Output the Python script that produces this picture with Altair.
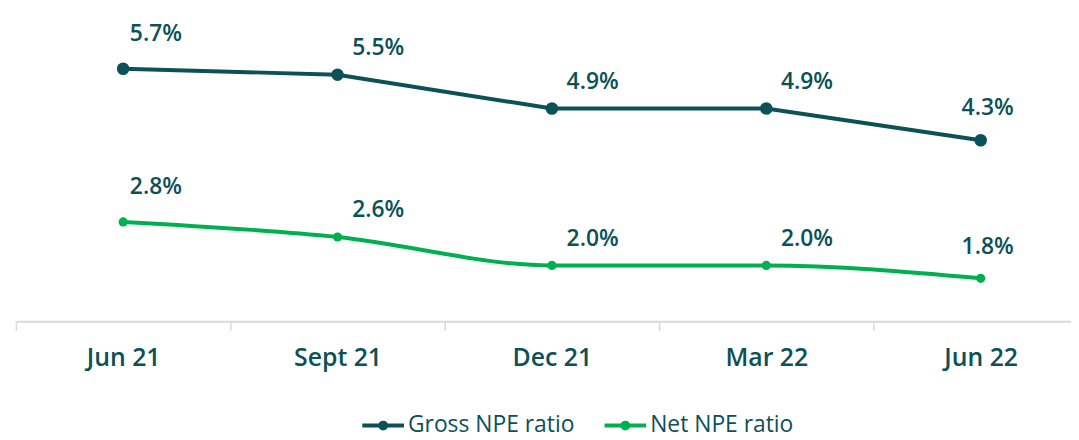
import altair as alt
import pandas as pd

periods = ["Jun 21", "Sept 21", "Dec 21", "Mar 22", "Jun 22"]
series_names = ["Gross NPE ratio", "Net NPE ratio"]
gross = [5.70, 5.59, 4.96, 4.96, 4.37]
net = [2.85, 2.57, 2.04, 2.04, 1.80]
gross_labels = ["5.7%", "5.5%", "4.9%", "4.9%", "4.3%"]
net_labels = ["2.8%", "2.6%", "2.0%", "2.0%", "1.8%"]

DARK = "#0b5156"
GREEN = "#00b050"
FONT = "Open Sans"

rows = []
for s, vals, labs in [(series_names[0], gross, gross_labels),
                      (series_names[1], net, net_labels)]:
    for i, (p, v, l) in enumerate(zip(periods, vals, labs)):
        rows.append({"period": p, "series": s, "value": v, "label": l, "idx": i})
df = pd.DataFrame(rows)

PLOT_W = 1063          # visible plot width (page is 1079 wide)
STEP = 216             # width of one period slot in the original
x_domain = [-0.5, -0.5 + PLOT_W / STEP]

cscale = alt.Scale(domain=series_names, range=[DARK, GREEN])
sym_path = "M-1,0L1,0M0.14,0A0.14,0.14,0,1,1,-0.14,0A0.14,0.14,0,1,1,0.14,0Z"
legend = alt.Legend(
    title=None, orient="none", legendX=347, legendY=396, direction="horizontal",
    symbolType=sym_path, symbolSize=1764, symbolStrokeWidth=4,
    labelFont=FONT, labelFontSize=23, labelColor=DARK, labelOffset=2,
    labelLimit=400, columnPadding=22,
)

label_expr = f"{periods}[datum.value]"

base = alt.Chart(df).encode(
    x=alt.X(
        "idx:Q", title=None,
        scale=alt.Scale(domain=x_domain, nice=False, zero=False),
        axis=alt.Axis(
            values=list(range(len(periods))), labelExpr=label_expr,
            domainColor="#d9d9d9", domainWidth=2, tickColor="#d9d9d9", tickWidth=1.5,
            tickSize=9, tickOffset=-STEP / 2, labelOffset=STEP / 2,
            labelFont=FONT, labelFontSize=25,
            labelFontWeight=600, labelColor=DARK, labelPadding=16, labelAngle=0,
            labelOverlap=False, labelFlush=False, grid=False,
        ),
    ),
    y=alt.Y("value:Q", scale=alt.Scale(domain=[1.0, 6.8], nice=False, zero=False), axis=None),
)

line_g = base.transform_filter(alt.datum.series == series_names[0]).mark_line(
    strokeWidth=4, interpolate="linear"
).encode(stroke=alt.Stroke("series:N", scale=cscale, legend=legend))
line_n = base.transform_filter(alt.datum.series == series_names[1]).mark_line(
    strokeWidth=4, interpolate="monotone"
).encode(stroke=alt.Stroke("series:N", scale=cscale, legend=legend))

pts_g = base.transform_filter(alt.datum.series == series_names[0]).mark_circle(
    size=160, opacity=1, color=DARK
)
pts_n = base.transform_filter(alt.datum.series == series_names[1]).mark_circle(
    size=85, opacity=1, color=GREEN
)

def labels(cond, dx, dy):
    return base.transform_filter(cond).mark_text(
        dx=dx, dy=dy, font=FONT, fontSize=23, fontWeight=600, color=DARK,
        align="center", baseline="middle",
    ).encode(text="label:N")

lab_first = labels(alt.datum.idx == 0, 33, -35)
lab_mid = labels((alt.datum.idx >= 1) & (alt.datum.idx <= 3), 41, -27)
lab_last = labels(alt.datum.idx == 4, 7, -32)

chart = alt.layer(line_g, line_n, pts_g, pts_n, lab_first, lab_mid, lab_last).properties(
    width=PLOT_W, height=314,
    autosize=alt.AutoSizeParams(type="none"),
    padding={"left": 8, "top": 0, "right": 0, "bottom": 130},
).configure_view(stroke=None).configure_legend(
    symbolSize=1764, symbolStrokeWidth=4, symbolType=sym_path
)

chart.save("out.html", embed_options={"renderer": "svg", "actions": False})
